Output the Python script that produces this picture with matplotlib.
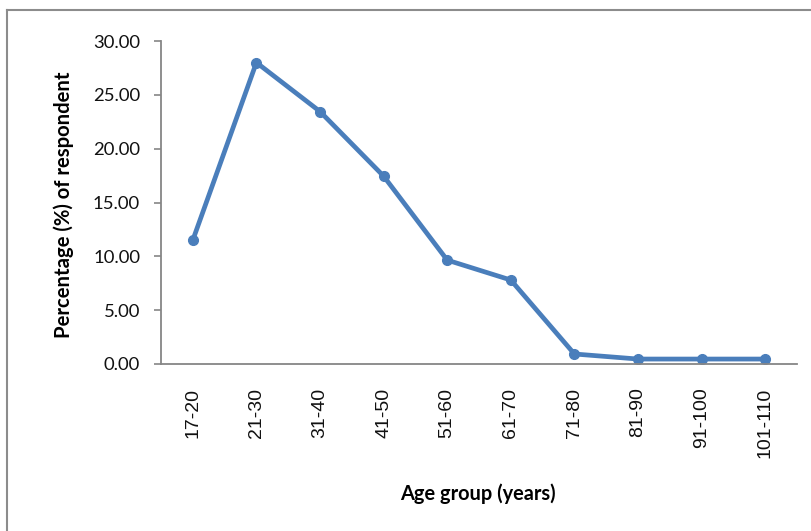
import matplotlib
matplotlib.use("Agg")
import matplotlib.pyplot as plt
from matplotlib.lines import Line2D

categories = ["17-20", "21-30", "31-40", "41-50", "51-60", "61-70", "71-80", "81-90", "91-100", "101-110"]
values = [11.5, 28.0, 23.45, 17.45, 9.65, 7.8, 0.93, 0.46, 0.46, 0.46]
yticks = [0, 5, 10, 15, 20, 25, 30]

plt.rcParams['font.family'] = ['Lato', 'DejaVu Sans']

fig = plt.figure(figsize=(8.12, 5.31), dpi=100)
W, H = 812, 531
ax = fig.add_axes([161 / W, 1 - 364 / H, (797 - 161) / W, (364 - 41) / H])

x = list(range(len(categories)))
ax.plot(x, values, color="#4A7EBB", lw=3.4, marker="o", markersize=7, solid_joinstyle="round")
ax.set_xlim(-0.5, len(categories) - 0.5)
ax.set_ylim(0, 30)
ax.set_yticks(yticks)
ax.set_yticklabels([f"{v:.2f}" for v in yticks], fontsize=13.3, color="#111111")
ax.set_xticks(x)
ax.set_xticklabels(categories, rotation=90, fontsize=14, family=["Liberation Sans", "DejaVu Sans"],
                   color="#111111")
ax.tick_params(axis="x", length=0, pad=17)
ax.tick_params(axis="y", length=5, color="#868686", width=1.2, pad=10)
for s in ["top", "right"]:
    ax.spines[s].set_visible(False)
for s in ["left", "bottom"]:
    ax.spines[s].set_color("#868686")
    ax.spines[s].set_linewidth(1.3)

fig.text(64 / W, 1 - 205 / H, "Percentage (%) of respondent", rotation=90, fontsize=14.6,
         fontweight="bold", ha="center", va="center")
fig.text(478 / W, 1 - 494 / H, "Age group (years)", fontsize=14.4, fontweight="bold",
         ha="center", va="center")

# outer chart border
fig.add_artist(Line2D([7 / W, 7 / W], [0, 1 - 10 / H], transform=fig.transFigure, color="#8c8c8c", lw=1.5))
fig.add_artist(Line2D([7 / W, 1], [1 - 10 / H, 1 - 10 / H], transform=fig.transFigure, color="#8c8c8c", lw=1.5))

fig.savefig("out.png", dpi=100)
